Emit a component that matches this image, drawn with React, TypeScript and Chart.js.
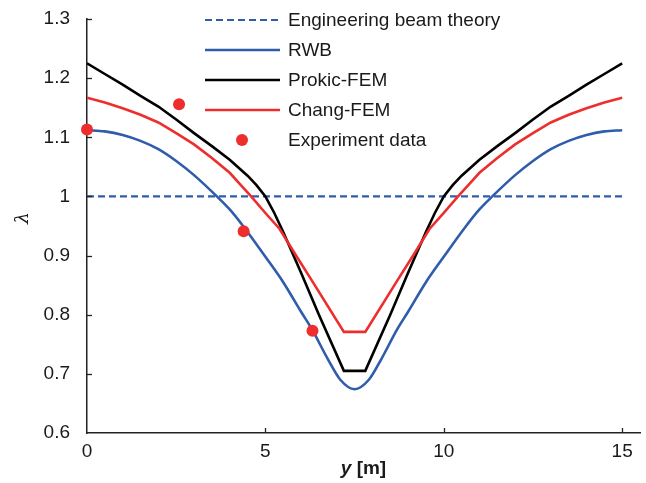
import React, { useEffect, useRef } from 'react';
import { Chart, registerables } from 'chart.js';

Chart.register(...registerables);

// ---- data ----
const beamX = [0, 15];
const beamY = [1, 1];

const rwbX = [0, 0.5, 1, 1.5, 2, 2.5, 3, 3.64, 4, 4.4, 5, 5.5, 6, 6.3, 6.75, 7.1, 7.5,
  7.9, 8.25, 8.7, 9, 9.5, 10, 10.6, 11, 11.36, 12, 12.5, 13, 13.5, 14, 14.5, 15];
const rwbY = [1.112, 1.11, 1.104, 1.094, 1.08, 1.06, 1.036, 1.0, 0.978, 0.948, 0.898, 0.855, 0.805, 0.776, 0.725, 0.69, 0.674,
  0.69, 0.725, 0.776, 0.805, 0.855, 0.898, 0.948, 0.978, 1.0, 1.036, 1.06, 1.08, 1.094, 1.104, 1.11, 1.112];

const prokicX = [0, 0.5, 1, 1.5, 2, 2.5, 3, 3.5, 4, 4.5, 4.75, 5, 5.25, 5.5, 6, 6.5, 7.2, 7.8,
  8.5, 9, 9.5, 9.75, 10, 10.25, 10.5, 11, 11.5, 12, 12.5, 13, 13.5, 14, 14.5, 15];
const prokicY = [1.225, 1.207, 1.189, 1.17, 1.152, 1.13, 1.107, 1.085, 1.062, 1.035, 1.019, 1.0, 0.972, 0.94, 0.871, 0.8, 0.705, 0.705,
  0.8, 0.871, 0.94, 0.972, 1.0, 1.019, 1.035, 1.062, 1.085, 1.107, 1.13, 1.152, 1.17, 1.189, 1.207, 1.225];

const changX = [0, 0.5, 1, 1.5, 2, 2.5, 3, 3.5, 4, 4.3, 4.6, 5.0, 5.4, 5.85, 6.3, 7.2, 7.8,
  8.7, 9.15, 9.6, 10.0, 10.4, 10.7, 11, 11.5, 12, 12.5, 13, 13.5, 14, 14.5, 15];
const changY = [1.167, 1.159, 1.149, 1.138, 1.125, 1.107, 1.088, 1.065, 1.04, 1.02, 1.0, 0.972, 0.945, 0.901, 0.858, 0.771, 0.771,
  0.858, 0.901, 0.945, 0.972, 1.0, 1.02, 1.04, 1.065, 1.088, 1.107, 1.125, 1.138, 1.149, 1.159, 1.167];

const expX = [0, 2.58, 4.39, 6.32];
const expY = [1.113, 1.156, 0.941, 0.773];

const xTicks = [0, 5, 10, 15];
const yTicks = [0.6, 0.7, 0.8, 0.9, 1.0, 1.1, 1.2, 1.3];

const labels = ['Engineering beam theory', 'RWB', 'Prokic-FEM', 'Chang-FEM', 'Experiment data'];

const BLUE = '#2F5CAB';
const RED = '#EE2D2D';
const BLACK = '#000000';
const FONT = "'Liberation Sans', Arial, sans-serif";

const zip = (xs: number[], ys: number[]) => xs.map((x, i) => ({ x, y: ys[i] }));

const customPlugin = {
  id: 'custom',
  afterDraw(chart: any) {
    const ctx = chart.ctx;
    const xs = chart.scales.x;
    const ys = chart.scales.y;
    const area = chart.chartArea;
    ctx.save();
    // inside tick marks
    ctx.strokeStyle = '#222';
    ctx.lineWidth = 1.3;
    xTicks.forEach((v) => {
      if (v === 0) return;
      const px = Math.round(xs.getPixelForValue(v)) + 0.5;
      ctx.beginPath();
      ctx.moveTo(px, area.bottom);
      ctx.lineTo(px, area.bottom - 5);
      ctx.stroke();
    });
    yTicks.forEach((v) => {
      if (v === 0.6) return;
      const py = Math.round(ys.getPixelForValue(v)) + 0.5;
      ctx.beginPath();
      ctx.moveTo(area.left, py);
      ctx.lineTo(area.left + 5, py);
      ctx.stroke();
    });

    // legend
    const ds = chart.data.datasets;
    const lx0 = 205, lx1 = 280, tx = 288;
    ctx.font = `19px ${FONT}`;
    ctx.textBaseline = 'middle';
    ctx.textAlign = 'left';
    labels.forEach((lab, i) => {
      const y = 20 + i * 30;
      const d = ds[i];
      if (i === 4) {
        ctx.fillStyle = RED;
        ctx.beginPath();
        ctx.arc(242, y, 6, 0, Math.PI * 2);
        ctx.fill();
      } else {
        ctx.strokeStyle = d.borderColor;
        ctx.lineWidth = d.borderWidth;
        ctx.setLineDash(d.borderDash || []);
        ctx.beginPath();
        ctx.moveTo(lx0, y);
        ctx.lineTo(lx1, y);
        ctx.stroke();
        ctx.setLineDash([]);
      }
      ctx.fillStyle = '#1a1a1a';
      ctx.fillText(lab, tx, y + 1);
    });

    // x-axis title: "y [m]"
    ctx.fillStyle = '#1a1a1a';
    const f1 = `italic bold 19px ${FONT}`;
    const f2 = `bold 19px ${FONT}`;
    ctx.font = f1;
    const w1 = ctx.measureText('y').width;
    ctx.font = f2;
    const w2 = ctx.measureText(' [m]').width;
    const cx = (area.left + area.right) / 2;
    const start = cx - (w1 + w2) / 2;
    ctx.textBaseline = 'middle';
    ctx.font = f1;
    ctx.fillText('y', start, 469);
    ctx.font = f2;
    ctx.fillText(' [m]', start + w1, 469);

    // y-axis title: lambda
    ctx.save();
    ctx.translate(23, 218);
    ctx.rotate(-Math.PI / 2);
    ctx.font = `italic 19px 'DejaVu Serif', serif`;
    ctx.textAlign = 'center';
    ctx.textBaseline = 'middle';
    ctx.fillText('λ', 0, 0);
    ctx.restore();

    ctx.restore();
  },
};

export default function App() {
  const ref = useRef<HTMLCanvasElement | null>(null);
  useEffect(() => {
    if (!ref.current) return;
    const chart = new Chart(ref.current, {
      type: 'scatter',
      data: {
        datasets: [
          {
            label: labels[0],
            data: zip(beamX, beamY),
            showLine: true,
            borderColor: BLUE,
            borderWidth: 2.2,
            borderDash: [7, 4],
            pointRadius: 0,
            order: 5,
          },
          {
            label: labels[1],
            data: zip(rwbX, rwbY),
            showLine: true,
            borderColor: BLUE,
            borderWidth: 2.6,
            pointRadius: 0,
            cubicInterpolationMode: 'monotone',
            order: 4,
          },
          {
            label: labels[2],
            data: zip(prokicX, prokicY),
            showLine: true,
            borderColor: BLACK,
            borderWidth: 2.6,
            pointRadius: 0,
            tension: 0,
            order: 3,
          },
          {
            label: labels[3],
            data: zip(changX, changY),
            showLine: true,
            borderColor: RED,
            borderWidth: 2.6,
            pointRadius: 0,
            tension: 0,
            order: 2,
          },
          {
            label: labels[4],
            data: zip(expX, expY),
            showLine: false,
            backgroundColor: RED,
            borderColor: RED,
            borderWidth: 0,
            pointRadius: 6,
            clip: false,
            order: 1,
          },
        ] as any,
      },
      options: {
        animation: false,
        responsive: false,
        maintainAspectRatio: false,
        layout: { padding: { top: 19, right: 6, left: 0, bottom: 0 } },
        plugins: { legend: { display: false }, tooltip: { enabled: false } },
        scales: {
          x: {
            type: 'linear',
            min: 0,
            max: 15.5,
            grid: { display: false, drawTicks: false },
            border: { display: true, color: '#222', width: 1.5 },
            afterBuildTicks: (s: any) => {
              s.ticks = xTicks.map((v) => ({ value: v }));
            },
            afterFit: (s: any) => {
              s.height = 50;
              s.paddingLeft = 0;
              s.paddingRight = 0;
            },
            ticks: {
              padding: 7,
              color: '#1a1a1a',
              font: { size: 19, family: FONT },
              maxRotation: 0,
              callback: (v: any) => String(v),
            },
          },
          y: {
            type: 'linear',
            min: 0.6,
            max: 1.3,
            grid: { display: false, drawTicks: false },
            border: { display: true, color: '#222', width: 1.5 },
            afterBuildTicks: (s: any) => {
              s.ticks = yTicks.map((v) => ({ value: v }));
            },
            afterFit: (s: any) => {
              s.width = 87;
              s.paddingTop = 0;
              s.paddingBottom = 0;
            },
            ticks: {
              padding: 17,
              color: '#1a1a1a',
              font: { size: 19, family: FONT },
              callback: (v: any) => String(Math.round(Number(v) * 10) / 10),
            },
          },
        },
      },
      plugins: [customPlugin],
    } as any);
    return () => chart.destroy();
  }, []);
  return (
    <div style={{ position: 'fixed', left: 0, top: 0, width: 646, height: 483, background: '#fff' }}>
      <canvas ref={ref} width={646} height={483} style={{ width: 646, height: 483, display: 'block' }} />
    </div>
  );
}
